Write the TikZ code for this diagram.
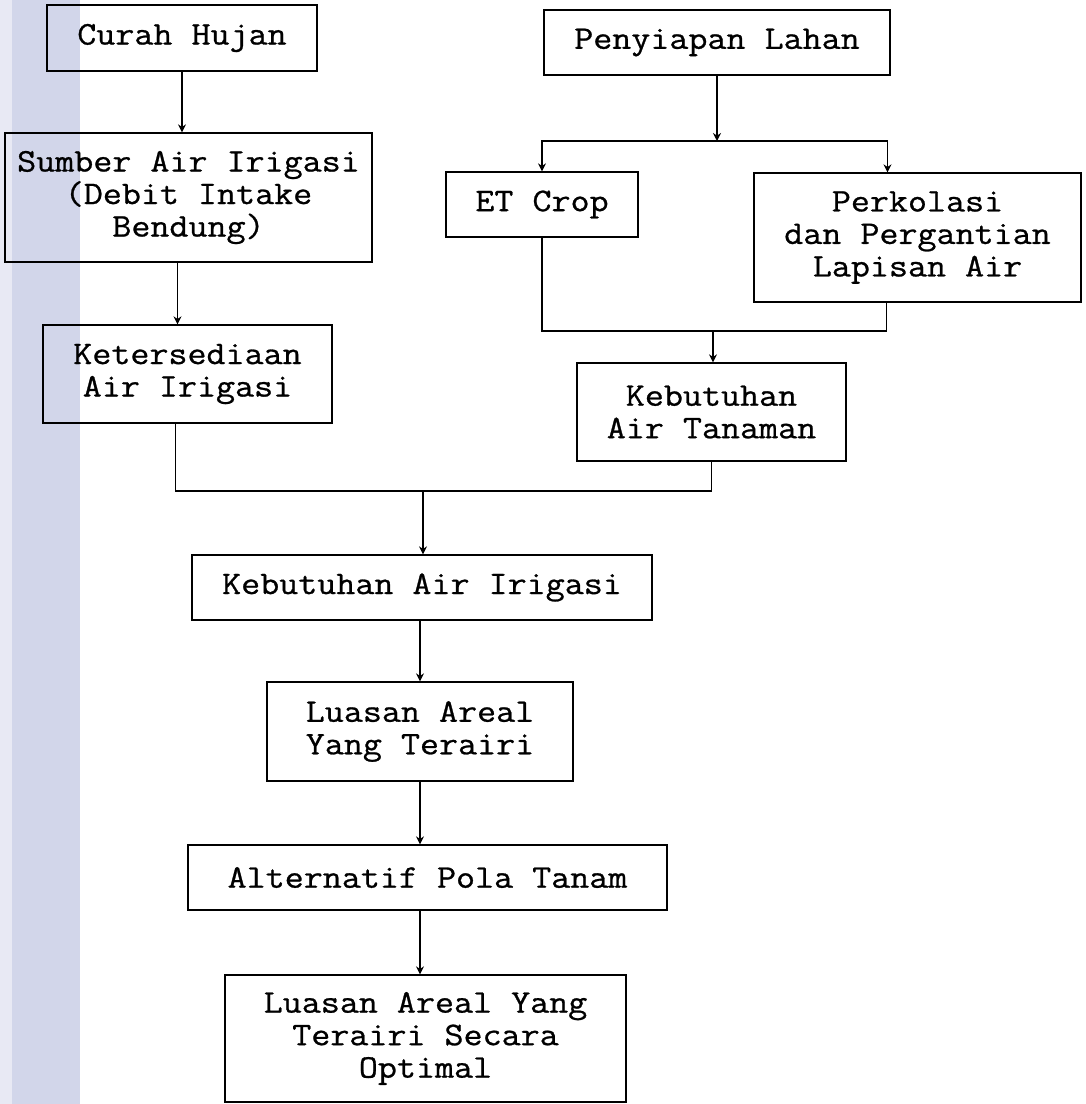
\documentclass[tikz,border=0pt]{standalone}
\usepackage{fontspec}
\newfontfamily\boxfont{Latin Modern Mono}[FakeStretch=1.12, FakeBold=0.8]
\usetikzlibrary{arrows.meta}
\definecolor{band}{RGB}{210,214,234}
\definecolor{bandedge}{RGB}{232,233,244}
\tikzset{box/.style = {draw, line width=1.3pt, inner sep=2pt, align=center,
                       font=\boxfont\fontsize{33}{32.5}\selectfont},
         link/.style = {line width=1.2pt},
         arr/.style = {link, -{Stealth[length=8pt, width=8pt]}}}

\begin{document}
\begin{tikzpicture}[x=1pt, y=-1pt]
    \useasboundingbox (0, 0) rectangle (1086, 1104);
    \fill [band] (0, 0) rectangle (80, 1104);
    \fill [bandedge] (0, 0) rectangle (12, 1104);

    % left column
    \node [box, minimum width=270pt, minimum height=66pt] (curah) at (182, 38) {Curah Hujan};
    \node [box, minimum width=367pt, minimum height=129pt] (sumber) at (188.5, 197.5) {Sumber Air Irigasi\\(Debit Intake\\Bendung)};
    \node [box, minimum width=289pt, minimum height=98pt] (keter) at (187.5, 374) {Ketersediaan\\Air Irigasi};

    % right column
    \node [box, minimum width=346pt, minimum height=65pt] (siap) at (717, 42.5) {Penyiapan Lahan};
    \node [box, minimum width=192pt, minimum height=65pt] (etc) at (542, 204.5) {ET Crop};
    \node [box, minimum width=327pt, minimum height=129pt] (perkol) at (917.5, 237.5) {Perkolasi\\dan Pergantian\\Lapisan Air};
    \node [box, minimum width=269pt, minimum height=98pt] (tanaman) at (711.5, 412) {Kebutuhan\\Air Tanaman};

    % middle column
    \node [box, minimum width=460pt, minimum height=65pt] (irigasi) at (422, 587.5) {Kebutuhan Air Irigasi};
    \node [box, minimum width=306pt, minimum height=99pt] (luas) at (420, 731.5) {Luasan Areal\\Yang Terairi};
    \node [box, minimum width=479pt, minimum height=65pt] (pola) at (427.5, 877.5) {Alternatif Pola Tanam};
    \node [box, minimum width=401pt, minimum height=127pt] (optimal) at (425.5, 1038.5) {Luasan Areal Yang\\Terairi Secara\\Optimal};

    \draw [arr] (curah.south) -- (curah.south |- sumber.north);
    \draw [arr] ([xshift=-11pt]sumber.south) -- ([xshift=-11pt]sumber.south |- keter.north);

    \coordinate (bagi) at (717, 141);
    \draw [arr] (siap) -- (bagi);
    \draw [arr] (bagi) -| (etc);
    \draw [arr] (bagi) -| ([xshift=-30pt]perkol.north);

    \coordinate (gabung) at (713, 331);
    \draw [link] (etc) |- (gabung);
    \draw [link] ([xshift=-31pt]perkol.south) |- (gabung);
    \draw [arr] (gabung) -- (gabung |- tanaman.north);

    \coordinate (total) at (423, 491);
    \draw [link] ([xshift=-12pt]keter.south) |- (total);
    \draw [link] (tanaman) |- (total);
    \draw [arr] (total) -- (total |- irigasi.north);

    \draw [arr] (luas.north |- irigasi.south) -- (luas);
    \draw [arr] (luas) -- (luas.south |- pola.north);
    \draw [arr] (luas.south |- pola.south) -- (luas.south |- optimal.north);
\end{tikzpicture}
\end{document}
